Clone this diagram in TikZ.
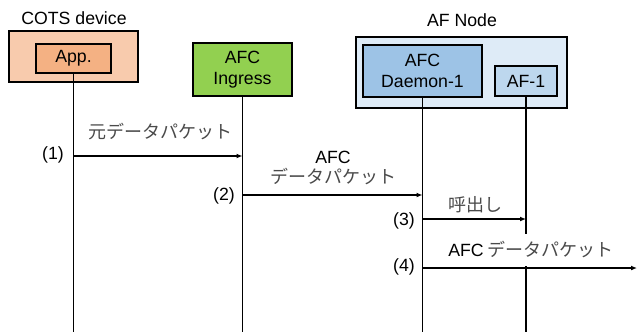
\documentclass[tikz,border=0pt]{standalone}
\usepackage{fontspec}
\setmainfont{Liberation Sans}
\newfontfamily\cjk{Noto Sans CJK JP}
\usetikzlibrary{arrows.meta}
\definecolor{cotsout}{HTML}{F8CBAD}
\definecolor{cotsin}{HTML}{F4B183}
\definecolor{ingress}{HTML}{92D050}
\definecolor{afnode}{HTML}{DEEBF7}
\definecolor{daemon}{HTML}{9DC3E6}
\definecolor{afone}{HTML}{BDD7EE}
\definecolor{jptext}{HTML}{4A4A4A}
\tikzset{
  box/.style={draw=black, line width=1.4pt, inner sep=0pt, align=center,
    font=\fontsize{17.7}{20.5}\selectfont},
  lifeline/.style={line width=1.3pt},
  msg/.style={line width=1.3pt, -{Latex[length=6pt,width=5pt]}},
  lbl/.style={font=\fontsize{17.7}{20.5}\selectfont, inner sep=0pt},
  jp/.style={font=\fontsize{18}{20.5}\selectfont\cjk, text=jptext, inner sep=0pt, align=center},
}
\begin{document}
\begin{tikzpicture}[x=1pt,y=-1pt]
\useasboundingbox (0,0) rectangle (637,332);
% containers
\node[box, fill=cotsout, minimum width=129pt, minimum height=51pt] (cots) at (73.5,56.5) {};
\node[box, fill=afnode, minimum width=211pt, minimum height=71pt] (afn) at (461.5,72.5) {};
\node[lbl] (cotslbl) at (74,18) {COTS device};
\node[lbl] (afnlbl) at (462,20) {AF Node};
% participants
\node[box, fill=cotsin, minimum width=75pt, minimum height=29pt] (app) at (73.5,58.5) {App.};
\node[box, fill=ingress, minimum width=99pt, minimum height=53pt] (ing) at (242.5,69.5) {AFC\\Ingress};
\node[box, fill=daemon, minimum width=119pt, minimum height=52pt] (dae) at (422.5,71) {AFC\\Daemon-1};
\node[box, fill=afone, minimum width=62pt, minimum height=30pt] (af1) at (526,81) {AF-1};
% lifeline ends
\coordinate (append) at (app.south |- 0,332);
\coordinate (ingend) at (ing.south |- 0,332);
\coordinate (daeend) at (dae.south |- 0,332);
\coordinate (af1end) at (af1.south |- 0,332);
\draw[lifeline] (app.south) -- (append);
\draw[lifeline] (ing.south) -- (ingend);
\draw[lifeline] (dae.south) -- (daeend);
\draw[lifeline] (af1.south) -- (af1end);
% messages
\coordinate (m1s) at (app.south |- 0,156);
\coordinate (m1e) at (ing.south |- 0,156);
\coordinate (m2s) at (ing.south |- 0,195);
\coordinate (m2e) at (dae.south |- 0,195);
\coordinate (m3s) at (dae.south |- 0,219);
\coordinate (m3e) at (af1.south |- 0,219);
\coordinate (m4s) at (dae.south |- 0,268);
\coordinate (m4e) at (637,268);
\node[jp] (t1) at (160,132) {元データパケット};
\node[jp] (t2) at (333,168) {{\fontspec{Liberation Sans}\fontsize{17.7}{20.5}\selectfont\color{black}AFC}\\[-1pt]データパケット};
\node[jp] (t3) at (475,205) {呼出し};
\node[jp, fill=white, minimum height=32pt] (t4) at (531,250) {{\fontspec{Liberation Sans}\fontsize{17.7}{20.5}\selectfont\color{black}AFC} データパケット};
\draw[msg] (m1s) -- (m1e);
\draw[msg] (m2s) -- (m2e);
\draw[msg] (m3s) -- (m3e);
\draw[msg] (m4s) -- (m4e);
\node[lbl, anchor=east] (n1) at (64,155) {(1)};
\node[lbl, anchor=east] (n2) at (235,196) {(2)};
\node[lbl, anchor=east] (n3) at (415,221) {(3)};
\node[lbl, anchor=east] (n4) at (415,267) {(4)};
\end{tikzpicture}
\end{document}
